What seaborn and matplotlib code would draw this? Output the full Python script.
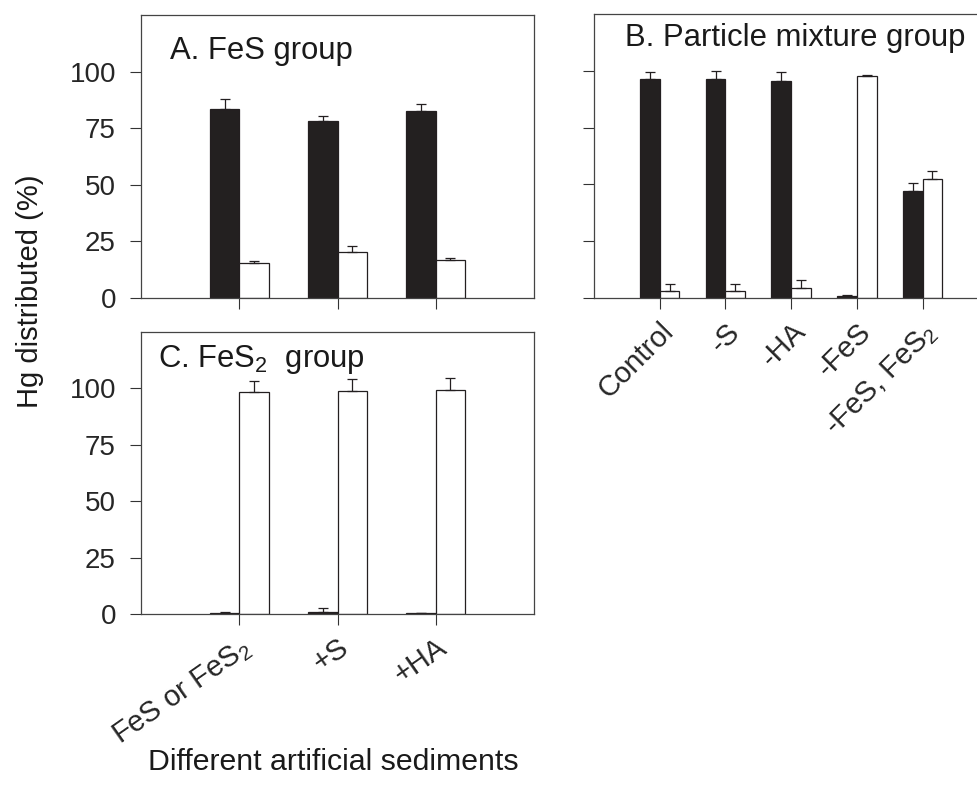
import numpy as np
import pandas as pd
import matplotlib
matplotlib.use("Agg")
import matplotlib.pyplot as plt
import seaborn as sns

# ---- data ----
cats_A = ["A1", "A2", "A3"]
black_A = [83.6, 78.3, 82.6]
black_A_err = [4.1, 2.1, 2.9]
white_A = [15.6, 20.3, 16.6]
white_A_err = [0.9, 2.6, 0.9]

cats_B = ["Control", "-S", "-HA", "-FeS", "-FeS, FeS$_\\mathregular{2}$"]
black_B = [96.5, 96.5, 95.7, 0.9, 47.1]
black_B_err = [2.9, 3.5, 3.9, 0.3, 3.5]
white_B = [3.3, 3.3, 4.6, 97.9, 52.4]
white_B_err = [2.9, 2.9, 3.3, 0.3, 3.6]

cats_C = ["FeS or FeS$_\\mathregular{2}$", "+S", "+HA"]
black_C = [0.5, 1.0, 0.4]
black_C_err = [0.4, 1.5, 0.2]
white_C = [98.5, 98.7, 99.1]
white_C_err = [5.0, 5.3, 5.3]

yticks = [0, 25, 50, 75, 100]
titles = ["A. FeS group", "B. Particle mixture group", "C. FeS$_\\mathregular{2}$  group"]
ylabel = "Hg distributed (%)"
xlabel = "Different artificial sediments"

sns.set_theme(style="white")
plt.rcParams["font.family"] = ["Liberation Sans", "DejaVu Sans"]
plt.rcParams["mathtext.fontset"] = "custom"
plt.rcParams["mathtext.rm"] = "Liberation Sans"
plt.rcParams["mathtext.it"] = "Liberation Sans:italic"
plt.rcParams["mathtext.bf"] = "Liberation Sans:bold"

W, H = 977, 785
fig = plt.figure(figsize=(W / 100, H / 100), dpi=100)

def frac(l, t, r, b):
    return [l / W, 1 - b / H, (r - l) / W, (b - t) / H]

axA = fig.add_axes(frac(141, 15, 534, 298))
axB = fig.add_axes(frac(594, 14, 594 + 6 * 65.7, 298))
axC = fig.add_axes(frac(141, 332, 534, 614))

def panel(ax, cats, bv, be, wv, we, title, tx, ty, show_xlabels, show_ylabels, rot=45):
    df = pd.DataFrame({
        "cat": list(cats) * 2,
        "val": list(bv) + list(wv),
        "kind": ["dark"] * len(cats) + ["light"] * len(cats),
    })
    sns.barplot(data=df, x="cat", y="val", hue="kind", order=cats,
                hue_order=["dark", "light"],
                palette={"dark": "#231f20", "light": "white"},
                edgecolor="#231f20", linewidth=0.9, width=0.6, gap=0,
                errorbar=None, legend=False, ax=ax)
    x = np.arange(len(cats))
    ax.errorbar(x - 0.15, bv, yerr=[np.zeros(len(cats)), be], fmt="none",
                ecolor="#231f20", elinewidth=0.9, capsize=3.5, capthick=0.9)
    ax.errorbar(x + 0.15, wv, yerr=[np.zeros(len(cats)), we], fmt="none",
                ecolor="#231f20", elinewidth=0.9, capsize=3.5, capthick=0.9)
    ax.set_xlim(-1, len(cats))
    ax.set_ylim(0, 125)
    ax.set_yticks(yticks)
    ax.set_xticks(x)
    ax.set_xlabel("")
    ax.set_ylabel("")
    if show_ylabels:
        ax.set_yticklabels([str(v) for v in yticks], fontsize=20)
    else:
        ax.set_yticklabels([])
    if show_xlabels:
        ax.set_xticklabels(cats, rotation=rot, ha="right", rotation_mode="anchor",
                           fontsize=21)
    else:
        ax.set_xticklabels([])
    ax.tick_params(axis="both", direction="out", length=8, width=0.8,
                   color="#333333", pad=10, left=True, bottom=True)
    ax.tick_params(axis="x", pad=6)
    for s in ax.spines.values():
        s.set_color("#444444")
        s.set_linewidth(0.9)
    ax.text(tx, ty, title, fontsize=22.3, ha="left", va="baseline", color="#1a1a1a")

panel(axA, cats_A, black_A, black_A_err, white_A, white_A_err,
      titles[0], -0.705, 105.6, False, True)
panel(axB, cats_B, black_B, black_B_err, white_B, white_B_err,
      titles[1], -0.53, 110.7, True, False, rot=45)
panel(axC, cats_C, black_C, black_C_err, white_C, white_C_err,
      titles[2], -0.827, 109.7, True, True, rot=35)

fig.text(30 / W, 1 - 291 / H, ylabel, rotation=90, fontsize=21,
         ha="center", va="center", color="#1a1a1a")
fig.text(333 / W, 1 - 762 / H, xlabel, fontsize=21.8,
         ha="center", va="center", color="#1a1a1a")

fig.savefig("out.png", dpi=100)
